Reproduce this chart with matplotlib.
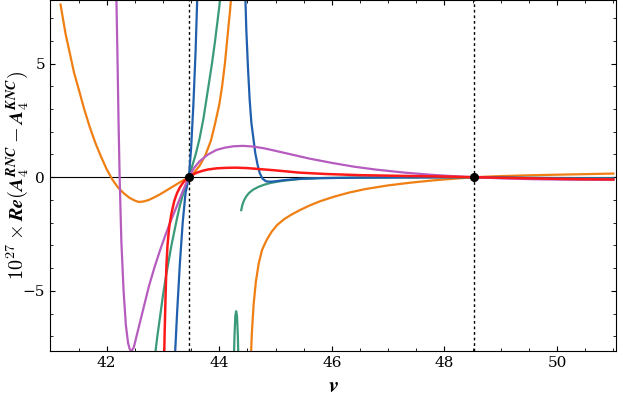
import matplotlib
matplotlib.use("Agg")
import matplotlib.pyplot as plt
import numpy as np
from matplotlib.ticker import MultipleLocator

plt.rcParams['mathtext.fontset'] = 'cm'
plt.rcParams['font.family'] = 'serif'
plt.rcParams['font.serif'] = ['DejaVu Serif']

# series (x, y); branches separated by NaN
orange_x = [41.18,41.27,41.35,41.42,41.5,41.6,41.7,41.8,41.9,42.0,42.1,42.2,42.3,42.4,42.5,42.57,42.65,42.75,42.85,42.95,43.05,43.15,43.25,43.35,43.46,43.55,43.65,43.75,43.85,43.92,44.0,44.05,44.1,44.15,44.19,44.22, np.nan,
            44.56,44.58,44.61,44.65,44.7,44.76,44.84,44.93,45.03,45.15,45.28,45.43,45.6,45.8,46.05,46.3,46.6,47.0,47.4,47.8,48.2,48.53,48.9,49.3,49.8,50.4,51.0]
orange_y = [7.6,6.3,5.4,4.6,3.9,3.0,2.2,1.5,0.9,0.35,-0.1,-0.45,-0.7,-0.9,-1.03,-1.09,-1.07,-1.0,-0.88,-0.75,-0.6,-0.45,-0.3,-0.15,0.0,0.2,0.5,0.95,1.6,2.3,3.2,4.0,5.0,6.3,7.3,8.2, np.nan,
            -8.0,-6.8,-5.6,-4.6,-3.8,-3.2,-2.77,-2.4,-2.1,-1.85,-1.65,-1.45,-1.25,-1.05,-0.85,-0.68,-0.52,-0.36,-0.24,-0.14,-0.06,0.0,0.04,0.07,0.1,0.13,0.16]
magenta_x = [42.17,42.19,42.21,42.23,42.26,42.3,42.34,42.38,42.41,42.44,42.48,42.52,42.57,42.62,42.68,42.75,42.85,42.95,43.05,43.15,43.25,43.35,43.46,43.55,43.65,43.8,43.95,44.1,44.25,44.42,44.6,44.8,45.0,45.3,45.6,46.0,46.4,46.8,47.3,47.8,48.2,48.53,49.0,49.6,50.3,51.0]
magenta_y = [8.2,5.5,2.5,0.0,-2.8,-5.0,-6.5,-7.3,-7.58,-7.65,-7.5,-7.1,-6.6,-6.1,-5.5,-4.8,-3.96,-3.2,-2.5,-1.85,-1.25,-0.62,0.0,0.4,0.7,1.0,1.2,1.3,1.36,1.38,1.35,1.27,1.16,0.99,0.82,0.63,0.46,0.33,0.2,0.1,0.04,0.0,-0.05,-0.09,-0.11,-0.12]
blue_x = [43.21,43.25,43.3,43.35,43.4,43.46,43.5,43.54,43.58,43.61, np.nan,
          44.46,44.48,44.51,44.54,44.57,44.61,44.64,44.68,44.72,44.77,44.83,44.9,45.0,45.15,45.43,45.8,46.5,47.5,48.53,49.5,50.3,51.0]
blue_y = [-8.0,-6.0,-3.8,-2.0,-0.7,0.0,1.3,3.2,5.6,8.0, np.nan,
          8.2,6.5,4.8,3.4,2.4,1.63,1.05,0.55,0.17,-0.07,-0.18,-0.2,-0.18,-0.13,-0.07,-0.04,-0.02,-0.01,0.0,-0.03,-0.05,-0.06]
teal_x = [42.85,42.9,42.95,43.0,43.05,43.1,43.15,43.2,43.25,43.3,43.35,43.4,43.46,43.52,43.58,43.65,43.72,43.77,43.82,43.87,43.92,43.96,44.0,44.03, np.nan,
          44.26,44.27,44.285,44.3,44.315,44.33,44.34, np.nan,
          44.39,44.41,44.44,44.48,44.53,44.6,44.7,44.8,44.9,45.05,45.2,45.43,45.8,46.4,47.2,48.53,49.5,50.3,51.0]
teal_y = [-8.0,-7.0,-6.1,-5.2,-4.4,-3.7,-3.0,-2.4,-1.8,-1.25,-0.8,-0.38,0.0,0.5,1.0,1.7,2.6,3.4,4.2,5.0,5.9,6.7,7.5,8.2, np.nan,
          -8.0,-7.0,-6.1,-5.9,-6.1,-7.0,-8.0, np.nan,
          -1.45,-1.22,-1.02,-0.84,-0.69,-0.55,-0.42,-0.33,-0.26,-0.19,-0.14,-0.08,-0.04,-0.02,-0.01,0.0,-0.03,-0.04,-0.05]
red_x = [43.02,43.03,43.045,43.06,43.08,43.11,43.15,43.2,43.25,43.3,43.36,43.41,43.46,43.52,43.6,43.7,43.8,43.95,44.1,44.3,44.5,44.7,45.0,45.43,45.9,46.5,47.2,48.0,48.53,49.3,50.2,51.0]
red_y = [-8.0,-6.8,-5.3,-3.95,-3.0,-2.2,-1.6,-1.05,-0.7,-0.45,-0.23,-0.1,0.0,0.1,0.2,0.28,0.34,0.39,0.41,0.42,0.4,0.36,0.3,0.2,0.14,0.09,0.06,0.03,0.0,-0.04,-0.08,-0.1]

special_x = [43.46, 48.53]
xticks = [42, 44, 46, 48, 50]
yticks = [-5, 0, 5]

fig = plt.figure(figsize=(6.23, 4.11), dpi=100)
ax = fig.add_axes([0.08, 0.146, 0.909, 0.854])
ax.axhline(0, color='black', lw=0.8)
for sx in special_x:
    ax.axvline(sx, color='black', lw=1.0, ls=(0, (2, 2)))
ax.plot(orange_x, orange_y, color='#f07f13', lw=1.6)
ax.plot(teal_x, teal_y, color='#3a9a7a', lw=1.6)
ax.plot(blue_x, blue_y, color='#1f5fad', lw=1.6)
ax.plot(magenta_x, magenta_y, color='#b65cbf', lw=1.6)
ax.plot(red_x, red_y, color='#ff1a1a', lw=1.8)
ax.plot(special_x, [0, 0], 'o', color='black', ms=5.5, zorder=5)

ax.set_xlim(40.99, 51.05)
ax.set_ylim(-7.65, 7.8)
ax.set_xticks(xticks)
ax.set_yticks(yticks)
ax.xaxis.set_minor_locator(MultipleLocator(0.5))
ax.yaxis.set_minor_locator(MultipleLocator(1))
ax.tick_params(which='both', direction='in', top=True, right=True, labelsize=11)
ax.set_xlabel(r'$\mathbfit{v}$', fontsize=16)
ax.set_ylabel(r'$\mathbf{10^{27}}\times\mathbfit{Re}(\mathbfit{A}_\mathbf{4}^{\mathbfit{RNC}}-\mathbfit{A}_\mathbf{4}^{\mathbfit{KNC}})$',
              fontsize=14.5)
ax.yaxis.set_label_coords(-0.035, 0.5)
fig.savefig('out.png', dpi=100)
